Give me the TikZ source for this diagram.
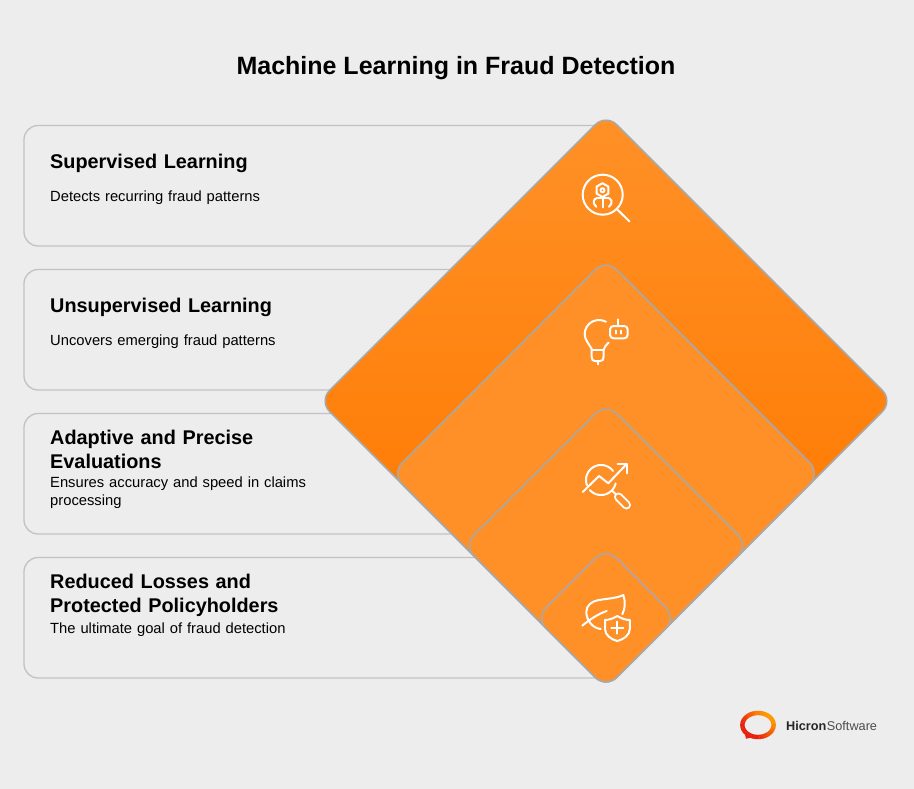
\documentclass[tikz,border=0pt]{standalone}
\usepackage{fontspec}
\setmainfont{Liberation Sans}
\definecolor{bgc}{HTML}{EDEDED}
\definecolor{cardline}{HTML}{C2C2C2}
\definecolor{dline}{HTML}{A9A9A9}
\definecolor{inner}{HTML}{FF8F27}
\definecolor{dtop}{HTML}{FF9127}
\definecolor{dbot}{HTML}{FF7C05}
\definecolor{logoA}{HTML}{FF9A00}
\definecolor{logoB}{HTML}{E8200F}
\pgfdeclareverticalshading{bigd}{100bp}{color(0bp)=(dbot); color(40bp)=(dbot); color(75bp)=(dtop); color(100bp)=(dtop)}
\tikzset{
  card/.style={draw=cardline,line width=1.3pt,rounded corners=14pt},
  dia/.style={draw=dline,line width=1.5pt,rounded corners=15pt,fill=inner},
  ico/.style={draw=white,line width=2pt,line cap=round,line join=round},
  ctitle/.style={anchor=north west,align=left,font=\bfseries\fontsize{19.85}{24}\selectfont,inner sep=0pt,text width=280pt},
  cbody/.style={anchor=north west,align=left,font=\fontsize{14.75}{18}\selectfont,inner sep=0pt,text width=280pt},
}
\begin{document}
\begin{tikzpicture}[x=1pt,y=-1pt]
\useasboundingbox[fill=bgc] (0,0) rectangle (914,789);
\node[font=\bfseries\fontsize{25}{30}\selectfont,anchor=center,inner sep=0pt] (title) at (456,68) {Machine Learning in Fraud Detection};
% cards
\draw[card] (606,125.5) -- (24,125.5) -- (24,246) -- (606,246);
\draw[card] (606,269.5) -- (24,269.5) -- (24,390) -- (606,390);
\draw[card] (606,413.5) -- (24,413.5) -- (24,534) -- (606,534);
\draw[card] (606,557.5) -- (24,557.5) -- (24,678) -- (606,678);
\node[ctitle] (t1) at (50,154) {Supervised Learning};
\node[cbody] (b1) at (50,191) {Detects recurring fraud patterns};
\node[ctitle] (t2) at (50,298) {Unsupervised Learning};
\node[cbody] (b2) at (50,335) {Uncovers emerging fraud patterns};
\node[ctitle] (t3) at (50,430) {Adaptive and Precise\\Evaluations};
\node[cbody] (b3) at (50,476.5) {Ensures accuracy and speed in claims\\processing};
\node[ctitle] (t4) at (50,574) {Reduced Losses and\\Protected Policyholders};
\node[cbody] (b4) at (50,623) {The ultimate goal of fraud detection};
% diamonds
\draw[dia,shading=bigd,shading angle=0] (606,114) -- (893,401) -- (606,688) -- (319,401) -- cycle;
\draw[dia] (606,259) -- (820.5,473.5) -- (606,688) -- (391.5,473.5) -- cycle;
\draw[dia] (606,403) -- (748.5,545.5) -- (606,688) -- (463.5,545.5) -- cycle;
\draw[dia] (606,547.5) -- (676.5,618) -- (606,688) -- (535.5,618) -- cycle;
% icon 1: magnifier with robot claw
\draw[ico] (602.7,194.7) circle[radius=20pt];
\draw[ico] (617.3,209.5) -- (629.3,221.3);
\draw[ico] (602.5,183.2) -- (608.4,186.6) -- (608.4,193.6) -- (602.5,197) -- (596.6,193.6) -- (596.6,186.6) -- cycle;
\draw[ico] (602.5,190.2) circle[radius=2pt];
\draw[ico] (602.7,197.5) -- (602.7,207.3);
\draw[ico] (597.5,197.8) -- (607.8,197.8);
\draw[ico] (597.5,197.8) .. controls (594,198.5) and (591.5,202.5) .. (596.3,206.8);
\draw[ico] (607.8,197.8) .. controls (611.3,198.5) and (613.8,202.5) .. (609,206.8);
% icon 2: bulb with robot
\draw[ico] (606,321.8) .. controls (602,319.7) and (597,319.3) .. (592.5,321.5) .. controls (587.5,324) and (584.7,329) .. (584.7,334) .. controls (584.7,340) and (589,344) .. (591.7,349) -- (591.7,357) .. controls (591.7,360) and (593,361) .. (595,361) -- (600,361) .. controls (602.5,361) and (603.5,360) .. (603.5,357) -- (603.5,350) .. controls (604,347) and (606.5,345) .. (608.6,342.5);
\draw[ico] (591.7,350) -- (604,350);
\draw[ico] (598,361) -- (598,364.3);
\draw[ico,rounded corners=3.5pt] (610,326) rectangle (627.7,338.3);
\draw[ico] (618.3,319.3) -- (618.3,326);
\draw[ico] (615.7,330.5) -- (615.7,333.7);
\draw[ico] (621,330.5) -- (621,333.7);
% icon 3: chart with magnifier
\draw[ico] plot[domain=160:323,samples=40,smooth] ({601+15*cos(\x)},{480+15*sin(\x)});
\draw[ico] plot[domain=138:13,samples=40,smooth] ({601+15*cos(\x)},{480+15*sin(\x)});
\draw[ico] (582.7,492) -- (599,476) -- (608.3,483.3) -- (626.7,464);
\draw[ico] (617.7,464) -- (626.7,464) -- (626.7,473.3);
\draw[ico] (612.5,491) -- (616,494.5);
\draw[draw=white,line width=9pt,line cap=round] (618.5,497) -- (626.5,505);
\draw[draw=inner,line width=5pt,line cap=round] (618.5,497) -- (626.5,505);
% icon 4: leaf with shield
\draw[ico] (582.3,625.7) .. controls (589,620) and (598,614) .. (606.7,611);
\draw[ico] (600.7,629) .. controls (592,628) and (586.5,620) .. (586.3,612) .. controls (586.3,605) and (592,601.5) .. (598,600.2) .. controls (607,598.5) and (616,598.5) .. (623.3,595) .. controls (625.5,602) and (625.3,608) .. (622.3,614.3);
\draw[ico] (617.3,616) .. controls (613,618.5) and (609,620) .. (605,620) -- (605,629) .. controls (605,635) and (611,639.5) .. (617.3,641) .. controls (623.6,639.5) and (629.8,635) .. (629.8,629) -- (629.8,620) .. controls (625.6,620) and (621.6,618.5) .. (617.3,616) -- cycle;
\draw[ico] (611.3,627.7) -- (623.3,627.7);
\draw[ico] (617.3,621.7) -- (617.3,633.7);
% logo
\fill[logoB] (744.5,732) -- (746,738.8) -- (753,737) -- cycle;
\foreach \a in {0,6,...,354}{
  \pgfmathsetmacro{\mixv}{100*(1+cos(\a+3-140))/2}
  \pgfmathsetmacro{\mixw}{min(100,\mixv*1.2)}
  \pgfmathsetmacro{\aend}{\a+7}
  \draw[line width=4.4pt,color=logoB!\mixw!logoA] plot[domain=\a:\aend,samples=5] ({758+15.6*cos(\x)},{725+12*sin(\x)});
}
\node[anchor=west,inner sep=0pt,font=\fontsize{12.7}{15}\selectfont,text=black!85] (logo) at (786,725.5) {\textbf{Hicron}\hspace{0.5pt}\textcolor{black!70}{Software}};
\end{tikzpicture}
\end{document}
